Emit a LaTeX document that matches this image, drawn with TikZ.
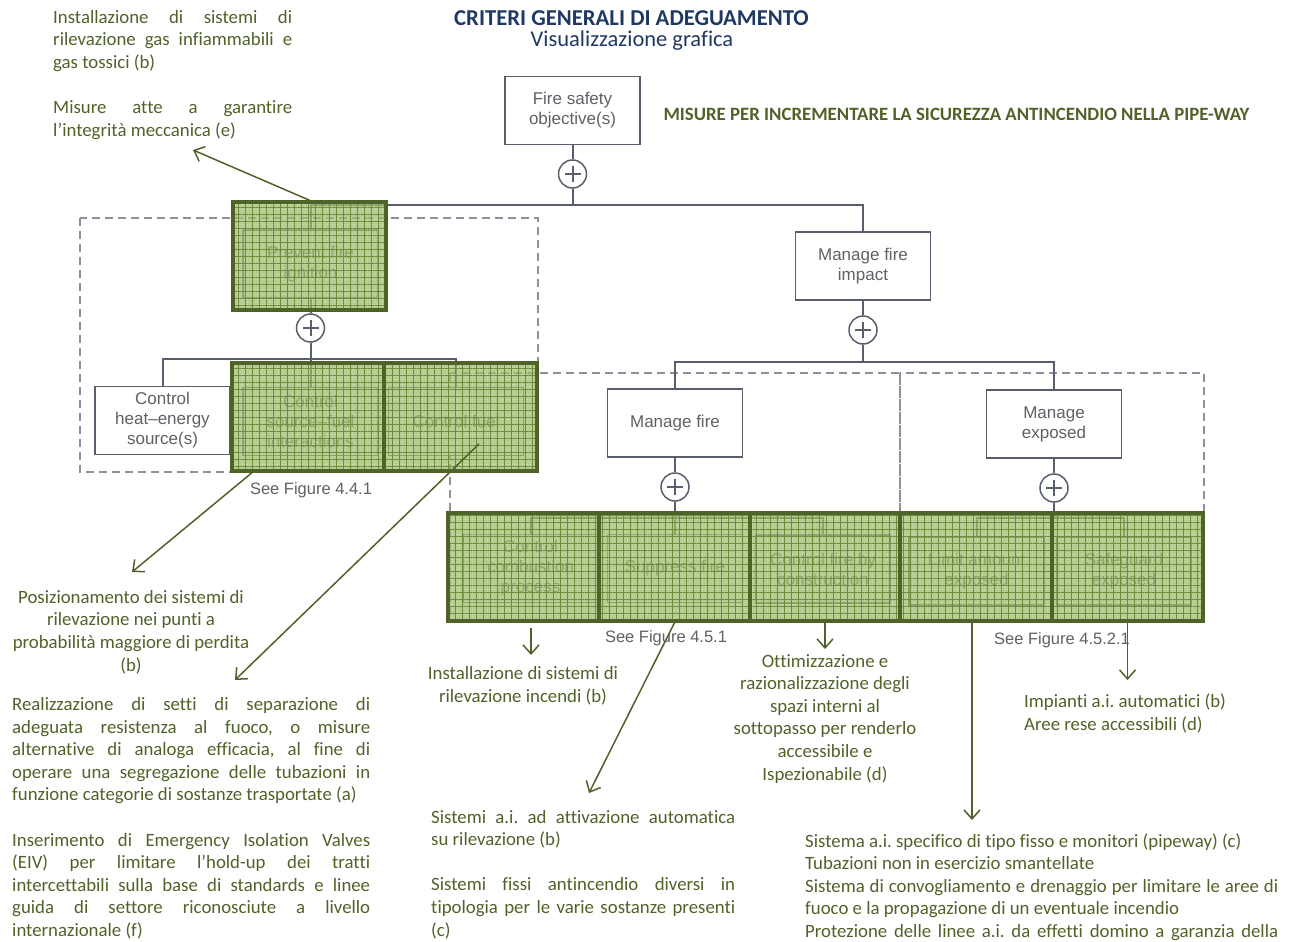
\documentclass[tikz,border=0pt]{standalone}
\usepackage{fontspec}
\setmainfont{Carlito}[Ligatures={TeX,NoCommon}]
\newfontfamily\treefont{Liberation Sans}
\usetikzlibrary{arrows.meta,patterns.meta}
\definecolor{notegreen}{RGB}{79,98,40}
\definecolor{titleblue}{RGB}{31,56,100}
\definecolor{treeline}{RGB}{88,94,108}
\definecolor{treetext}{RGB}{95,97,102}
\definecolor{dashgray}{RGB}{140,145,155}
\definecolor{hlgreen}{RGB}{155,185,100}
\definecolor{hlline}{RGB}{110,140,60}
\definecolor{hlborder}{RGB}{79,98,40}
\newdimen\jw
\newcommand\jl[1]{\makebox[\jw][s]{#1}}
\newcommand\notefont{\fontsize{18.8}{22.6}\selectfont}
\newcommand\boxfont{\treefont\fontsize{17}{20}\selectfont}
\frenchspacing
\begin{document}
\begin{tikzpicture}[x=1pt,y=-1pt,
    gbox/.style={draw=treeline, line width=1.5pt, fill=white, minimum width=135pt, minimum height=68pt, inner sep=1pt, align=center, font=\boxfont, text=treetext},
    plus/.style={circle, draw=treeline, line width=1.5pt, fill=white, minimum size=28pt, inner sep=0pt,
        path picture={\draw[treeline, line width=2pt] ([xshift=-8pt]path picture bounding box.center) -- ([xshift=8pt]path picture bounding box.center)
            ([yshift=-8pt]path picture bounding box.center) -- ([yshift=8pt]path picture bounding box.center);}},
    tline/.style={treeline, line width=2pt},
    dashframe/.style={dashgray, line width=1.5pt, dash pattern=on 8pt off 5pt},
    seefig/.style={font=\treefont\fontsize{16.5}{20}\selectfont, text=treetext},
    hl/.style={draw=hlborder, line width=3.5pt, inner sep=0pt, minimum height=108pt,
        preaction={fill=hlgreen, fill opacity=.72},
        preaction={pattern={Dots[distance=2.5pt,radius=.45pt]}, pattern color=white, fill opacity=.55},
        preaction={pattern={Hatch[angle=0,distance=7pt,line width=.6pt]}, pattern color=hlline, fill opacity=.6}},
    arr/.style={notegreen, line width=1.5pt, -{Straight Barb[length=9pt,width=16pt,line width=1.5pt]}},
    note/.style={font=\notefont, text=notegreen, inner sep=0pt, align=left},
    jnote/.style={note, execute at begin node={\global\jw=#1\relax}}]
\useasboundingbox (0,0) rectangle (1296,942);

% dashed frames
\draw[dashframe] (80,218) rectangle (538,472);
\draw[dashframe] (450,373) rectangle (900,622);
\draw[dashframe] (900,373) rectangle (1204,622);

% fire safety tree
\node[gbox] (fso) at (572.5,110.5) {Fire safety\\objective(s)};
\node[gbox] (pfi) at (310.5,264) {Prevent fire\\ignition};
\node[gbox] (mfi) at (863,266) {Manage fire\\impact};
\node[gbox] (chs) at (162.5,420.5) {Control\\heat\textendash energy\\source(s)};
\node[gbox] (csf) at (310.5,421.5) {Control\\source\textendash fuel\\interactions};
\node[gbox] (cfu) at (456,421.5) {Control fuel};
\node[gbox] (mfr) at (675,423) {Manage fire};
\node[gbox] (mex) at (1054,424) {Manage\\exposed};
\node[gbox] (ccp) at (530.5,568.5) {Control\\combustion\\process};
\node[gbox] (sfi) at (675,568.5) {Suppress fire};
\node[gbox] (cfc) at (823,569) {Control fire by\\construction};
\node[gbox] (lae) at (976.5,571) {Limit amount\\exposed};
\node[gbox] (sex) at (1124,571) {Safeguard\\exposed};
\node[plus] (p1) at (572.5,174) {};
\node[plus] (p2) at (310.5,328) {};
\node[plus] (p3) at (863,330) {};
\node[plus] (p4) at (675,487) {};
\node[plus] (p5) at (1054,488) {};
\coordinate (b1) at (572.5,205);
\coordinate (b2) at (310.5,359);
\coordinate (b3) at (863,362);
\coordinate (b4) at (675,518);
\coordinate (b5) at (1054,518);
\draw[tline] (fso) -- (p1) -- (b1) -| (pfi.north) (b1) -| (mfi.north);
\draw[tline] (pfi) -- (p2) -- (b2) -| (chs.north) (b2) -- (csf) (b2) -| (cfu.north);
\draw[tline] (mfi) -- (p3) -- (b3) -| (mfr.north) (b3) -| (mex.north);
\draw[tline] (mfr) -- (p4) -- (b4) -| (ccp.north) (b4) -- (sfi) (b4) -| (cfc.north);
\draw[tline] (mex) -- (p5) -- (b5) -| (lae.north) (b5) -| (sex.north);
\node[seefig] (sf1) at (311,490) {See Figure 4.4.1};
\node[seefig] (sf2) at (666,638) {See Figure 4.5.1};
\node[seefig] (sf3) at (1062,640) {See Figure 4.5.2.1};

% highlighted measures
\node[hl, minimum width=153pt] (hpfi) at (309.5,256) {};
\node[hl, minimum width=152pt] (hcsf) at (308,417) {};
\node[hl, minimum width=153pt] (hcfu) at (460.5,417) {};
\node[hl, minimum width=151pt] (hccp) at (523.5,567) {};
\node[hl, minimum width=151pt] (hsfi) at (674.5,567) {};
\node[hl, minimum width=150pt] (hcfc) at (825,567) {};
\node[hl, minimum width=152pt] (hlae) at (976,567) {};
\node[hl, minimum width=151pt] (hsex) at (1127.5,567) {};

% titles
\node[font=\bfseries\fontsize{22.7}{26}\selectfont, text=titleblue, anchor=base] (ttl) at (631.5,26) {CRITERI GENERALI DI ADEGUAMENTO};
\node[font=\fontsize{22.5}{26}\selectfont, text=titleblue, anchor=base] (sub) at (632,47) {Visualizzazione grafica};
\node[font=\bfseries\fontsize{18.8}{22}\selectfont, text=notegreen, anchor=base west] (hdr) at (660,121) {MISURE PER INCREMENTARE LA SICUREZZA ANTINCENDIO NELLA PIPE-WAY};

% notes (anchored at the baseline of their last line)
\node[jnote=239pt, anchor=base west] (n1) at (53,136.3) {\jl{Installazione di sistemi di}\\\jl{rilevazione gas infiammabili e}\\gas tossici (b)\\[22.6pt]\jl{Misure atte a garantire}\\l’integrità meccanica (e)};
\node[note, align=center, anchor=base] (n2) at (131,671) {Posizionamento dei sistemi di\\rilevazione nei punti a\\probabilità maggiore di perdita\\(b)};
\node[jnote=358pt, anchor=base west] (n3) at (12,936.5) {\jl{Realizzazione di setti di separazione di}\\\jl{adeguata resistenza al fuoco, o misure}\\\jl{alternative di analoga efficacia, al fine di}\\\jl{operare una segregazione delle tubazioni in}\\funzione categorie di sostanze trasportate (a)\\[22.6pt]\jl{Inserimento di Emergency Isolation Valves}\\\jl{(EIV) per limitare l’hold-up dei tratti}\\\jl{intercettabili sulla base di standards e linee}\\\jl{guida di settore riconosciute a livello}\\internazionale (f)};
\node[note, align=center, anchor=base] (n4) at (523,702) {Installazione di sistemi di\\rilevazione incendi (b)};
\node[jnote=304pt, anchor=base west] (n5) at (431,936) {\jl{Sistemi a.i. ad attivazione automatica}\\su rilevazione (b)\\[22.6pt]\jl{Sistemi fissi antincendio diversi in}\\\jl{tipologia per le varie sostanze presenti}\\(c)};
\node[note, align=center, anchor=base] (n6) at (825,780) {Ottimizzazione e\\razionalizzazione degli\\spazi interni al\\sottopasso per renderlo\\accessibile e\\Ispezionabile (d)};
\node[note, anchor=base west] (n7) at (1024,730) {Impianti a.i. automatici (b)\\Aree rese accessibili (d)};
\node[jnote=473pt, anchor=base west] (n8) at (805,937.4) {Sistema a.i. specifico di tipo fisso e monitori (pipeway) (c)\\Tubazioni non in esercizio smantellate\\\jl{Sistema di convogliamento e drenaggio per limitare le aree di}\\fuoco e la propagazione di un eventuale incendio\\\jl{Protezione delle linee a.i. da effetti domino a garanzia della}};

% arrows from measures to notes
\coordinate (t1) at (193,150);
\coordinate (s2) at (254,471);
\coordinate (t2) at (132,572);
\coordinate (s3) at (479,444);
\coordinate (t3) at (235,680);
\coordinate (s4) at (531,628);
\coordinate (t4) at (531,655);
\coordinate (t5) at (589,793);
\coordinate (t6) at (825,649);
\coordinate (s7) at (972,621);
\coordinate (t7) at (972,820);
\coordinate (t8) at (1127.5,680);
\draw[arr] (hpfi.north) -- (t1);
\draw[arr] (s2) -- (t2);
\draw[arr] (s3) -- (t3);
\draw[arr] (s4) -- (t4);
\draw[arr] (hsfi.south) -- (t5);
\draw[arr] (hcfc.south) -- (t6);
\draw[arr] (s7) -- (t7);
\draw[arr] (hsex.south) -- (t8);
\end{tikzpicture}
\end{document}
